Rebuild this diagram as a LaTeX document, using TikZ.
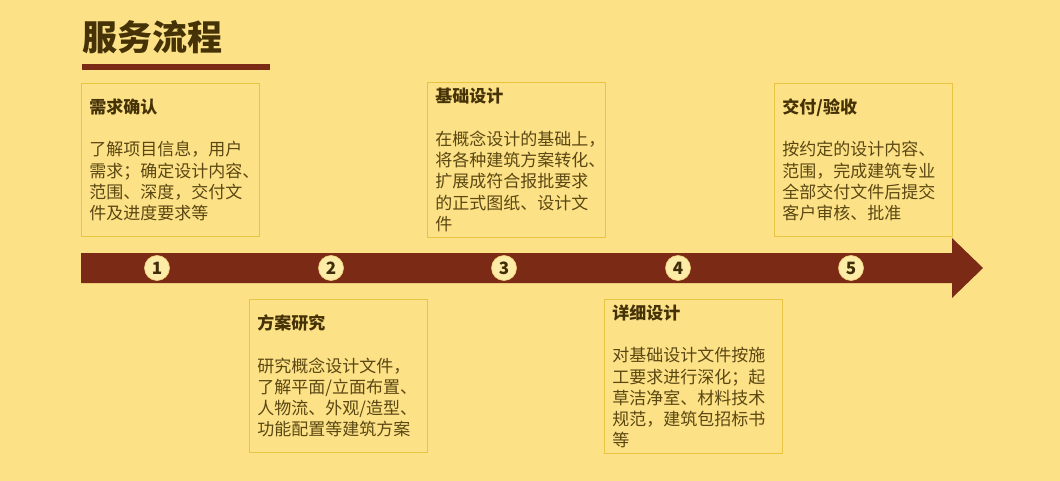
\documentclass[tikz,border=0pt]{standalone}
\usepackage{fontspec}
\setmainfont{Noto Sans CJK SC}
\begin{document}
\begin{tikzpicture}[x=1pt,y=-1pt,
  bodytext/.style={text=txtbody, font=\fontsize{17}{21.3}\selectfont},
  stepbox/.style={draw=boxline, line width=0.9pt, minimum width=178pt, minimum height=153pt,
    inner xsep=8pt, inner ysep=0pt, text width=162pt, align=left, anchor=north west,
    bodytext},
  numcirc/.style={circle, fill=circfill, draw=circline, line width=0.6pt, minimum size=25pt, inner sep=0pt,
    text=numtxt, font=\fontsize{17}{17}\selectfont\bfseries}
]
\definecolor{bg}{HTML}{FCE187}
\definecolor{arrowc}{HTML}{7B2B15}
\definecolor{boxline}{HTML}{E9C441}
\definecolor{txtbody}{HTML}{5A4712}
\definecolor{txttitle}{HTML}{453207}
\definecolor{circfill}{HTML}{FDEBA8}
\definecolor{circline}{HTML}{F2D37A}
\definecolor{numtxt}{HTML}{3E2D08}
\useasboundingbox (0,0) rectangle (1060,481);
\fill[bg] (0,0) rectangle (1060,481);

% title
\node[anchor=west, inner sep=0pt, text=txttitle, font=\fontsize{35}{35}\selectfont\bfseries] (title) at (82,37) {服务流程};
\fill[arrowc] (82,64) rectangle (270,70);

% arrow
\fill[arrowc] (81,253) -- (952,253) -- (952,238) -- (983,268) -- (952,298) -- (952,283) -- (81,283) -- cycle;

% boxes
\node[stepbox] (b1) at (81,83) {{\bfseries\color{txttitle}需求确认}\\[21.3pt]了解项目信息，用户\\需求；确定设计内容、\\范围、深度，交付文\\件及进度要求等};
\node[stepbox] (b2) at (249,299) {{\bfseries\color{txttitle}方案研究}\\[21.3pt]研究概念设计文件，\\了解平面/立面布置、\\人物流、外观/造型、\\功能配置等建筑方案};
\node[stepbox, minimum height=155pt] (b3) at (427,82) {{\bfseries\color{txttitle}基础设计}\\[21.3pt]在概念设计的基础上，\\将各种建筑方案转化、\\扩展成符合报批要求\\的正式图纸、设计文\\件};
\node[stepbox, minimum height=154pt] (b4) at (604,299) {{\bfseries\color{txttitle}详细设计}\\[21.3pt]对基础设计文件按施\\工要求进行深化；起\\草洁净室、材料技术\\规范，建筑包招标书\\等};
\node[stepbox] (b5) at (774,83) {{\bfseries\color{txttitle}交付/验收}\\[21.3pt]按约定的设计内容、\\范围，完成建筑专业\\全部交付文件后提交\\客户审核、批准};

% circles
\node[numcirc] (c1) at (157,268) {1};
\node[numcirc] (c2) at (331,268) {2};
\node[numcirc] (c3) at (504,268) {3};
\node[numcirc] (c4) at (678,268) {4};
\node[numcirc] (c5) at (851,268) {5};
\end{tikzpicture}
\end{document}
